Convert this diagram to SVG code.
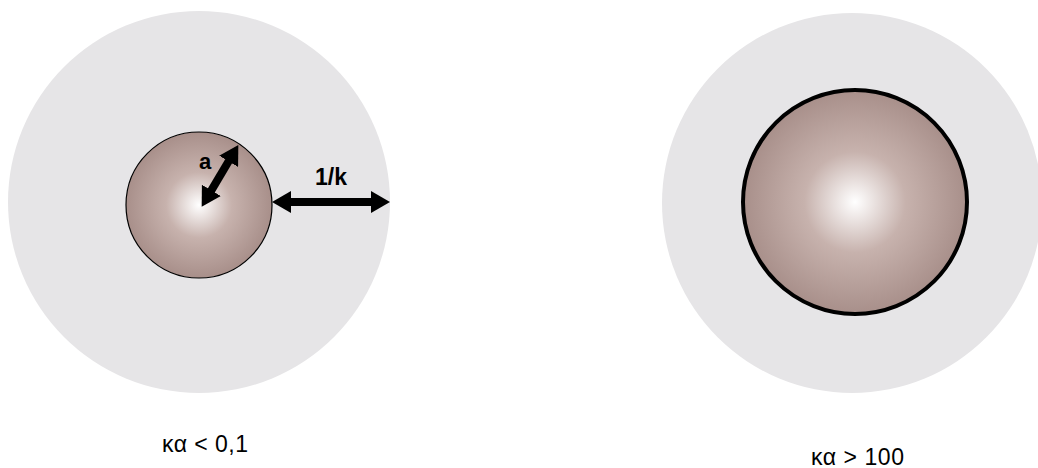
<svg xmlns="http://www.w3.org/2000/svg" width="1038" height="468" viewBox="0 0 1038 468">
<defs>
<radialGradient id="g" cx="0.5" cy="0.5" r="0.5">
<stop offset="0" stop-color="#ffffff"/>
<stop offset="0.45" stop-color="#c7b2ad"/>
<stop offset="1" stop-color="#a88f8a"/>
</radialGradient>
<marker id="ah" viewBox="0 0 19 22" refX="7" refY="11" markerWidth="2.375" markerHeight="2.75" orient="auto-start-reverse" markerUnits="strokeWidth">
<path d="M0,0 L19,11 L0,22 Z" fill="#000"/>
</marker>
<style>
.halo{fill:#e6e5e7}
.lbl{font-family:"Liberation Sans",Arial,sans-serif;font-size:23px;fill:#000}
.b{font-weight:bold;font-size:22px}
.arr{stroke:#000;stroke-width:8;fill:none}
</style>
</defs>
<g id="left">
<circle class="halo" cx="199" cy="202" r="191"/>
<circle cx="199" cy="205" r="73" fill="url(#g)" stroke="#000" stroke-width="1.2"/>
</g>
<g id="right">
<circle class="halo" cx="852" cy="203" r="190"/>
<circle cx="855" cy="202" r="112" fill="url(#g)" stroke="#000" stroke-width="4"/>
</g>
<g id="connectors">
<line class="arr" x1="207.8" y1="196.4" x2="232.2" y2="155.3" marker-start="url(#ah)" marker-end="url(#ah)"/>
<line class="arr" x1="284" y1="202" x2="378" y2="202" marker-start="url(#ah)" marker-end="url(#ah)"/>
</g>
<g id="labels">
<text class="lbl b" x="199" y="169">a</text>
<text class="lbl b" x="315" y="185" style="font-size:23px">1/k</text>
<text class="lbl" x="162" y="452" textLength="86" lengthAdjust="spacing">κα &lt; 0,1</text>
<text class="lbl" x="811" y="465" textLength="93" lengthAdjust="spacing">κα &gt; 100</text>
</g>
</svg>
